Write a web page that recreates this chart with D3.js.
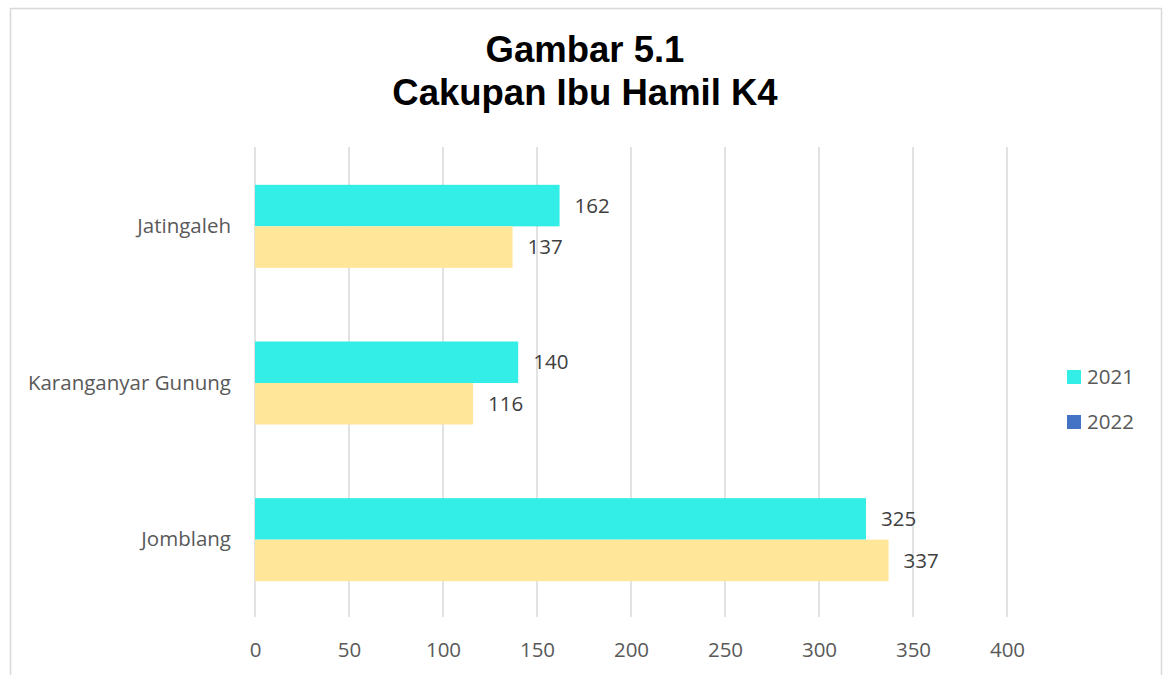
<!DOCTYPE html>
<html>
<head>
<meta charset="utf-8">
<script src="https://cdn.jsdelivr.net/npm/d3@7"></script>
<style>
  body { margin: 0; background: #fff; }
  text { font-family: "Open Sans", sans-serif; }
</style>
</head>
<body>
<script>
var titleLines = ["Gambar 5.1", "Cakupan Ibu Hamil K4"]
var categories = ["Jatingaleh", "Karanganyar Gunung", "Jomblang"]
var seriesNames = ["2021", "2022"]
var values2021 = [162, 140, 325]
var values2022 = [137, 116, 337]
var xTicks = [0, 50, 100, 150, 200, 250, 300, 350, 400]

var barColors = ["#33EEE6", "#FFE699"]
var legendColors = ["#33EEE6", "#4472C4"]

var width = 1164,
    height = 675;

var svg = d3.select("body")
    .append("svg")
    .attr("width", width)
    .attr("height", height);

// chart border
svg.append("rect")
    .attr("x", 10.5).attr("y", 8.5)
    .attr("width", 1151).attr("height", 700)
    .attr("fill", "#fff")
    .attr("stroke", "#d9d9d9")
    .attr("stroke-width", 1.5);

svg.selectAll("text.title")
    .data(titleLines)
    .enter().append("text")
    .attr("class", "title")
    .attr("x", 585)
    .attr("y", function(d, i){ return 62 + i * 43 })
    .attr("text-anchor", "middle")
    .style("font-family", "'Liberation Sans', Arial, sans-serif")
    .style("font-weight", "bold")
    .style("font-size", "36.5px")
    .attr("fill", "#000")
    .text(function(d){ return d });

var x = d3.scaleLinear().domain([0, 400]).range([255, 1007]);
var y = d3.scaleBand().domain(categories).range([148, 618]).paddingInner(0.47).paddingOuter(0.235);
var ySub = d3.scaleBand().domain(seriesNames).range([0, y.bandwidth()]);

// gridlines
svg.append("g")
    .selectAll("line")
    .data(xTicks)
    .enter().append("line")
    .attr("x1", function(d){ return x(d) })
    .attr("x2", function(d){ return x(d) })
    .attr("y1", 147).attr("y2", 617)
    .attr("stroke", "#d9d9d9")
    .attr("stroke-width", 1.5);

var xAxis = d3.axisBottom(x).tickValues(xTicks).tickSize(0).tickPadding(0);
var gx = svg.append("g").attr("transform", "translate(0,657)").call(xAxis);
gx.select(".domain").remove();
gx.selectAll("text")
    .attr("dy", 0)
    .attr("fill", "#595959")
    .style("font-family", "'Open Sans', sans-serif")
    .style("font-size", "20.5px");

var yAxis = d3.axisLeft(y).tickSize(0).tickPadding(24);
var gy = svg.append("g").attr("transform", "translate(255,0)").call(yAxis);
gy.select(".domain").remove();
gy.selectAll("text")
    .attr("fill", "#595959")
    .style("font-family", "'Open Sans', sans-serif")
    .style("font-size", "20.5px");

var rows = categories.map(function(c, i){
    return [{cat: c, s: "2021", v: values2021[i]}, {cat: c, s: "2022", v: values2022[i]}]
});

var groups = svg.append("g")
    .selectAll("g")
    .data(rows)
    .enter().append("g")
    .attr("transform", function(d){ return "translate(0," + y(d[0].cat) + ")" });

groups.selectAll("rect")
    .data(function(d){ return d })
    .enter().append("rect")
    .attr("x", x(0))
    .attr("y", function(d){ return ySub(d.s) })
    .attr("width", function(d){ return x(d.v) - x(0) })
    .attr("height", ySub.bandwidth())
    .attr("fill", function(d){ return barColors[seriesNames.indexOf(d.s)] });

groups.selectAll("text")
    .data(function(d){ return d })
    .enter().append("text")
    .attr("x", function(d){ return x(d.v) + 15 })
    .attr("y", function(d){ return ySub(d.s) + ySub.bandwidth() / 2 })
    .attr("dy", "0.35em")
    .attr("fill", "#404040")
    .style("font-size", "20.5px")
    .text(function(d){ return d.v });

var legend = svg.append("g")
    .selectAll("g")
    .data(seriesNames)
    .enter().append("g")
    .attr("transform", function(d, i){ return "translate(1067," + (370 + i * 45) + ")" });

legend.append("rect")
    .attr("width", 14).attr("height", 14)
    .attr("fill", function(d, i){ return legendColors[i] });

legend.append("text")
    .attr("x", 20).attr("y", 7)
    .attr("dy", "0.35em")
    .attr("fill", "#595959")
    .style("font-size", "20.5px")
    .text(function(d){ return d });
</script>
</body>
</html>
